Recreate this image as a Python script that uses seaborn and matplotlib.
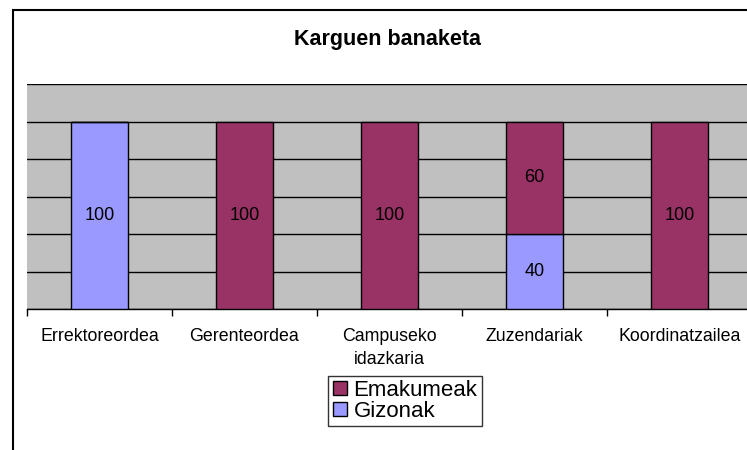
import numpy as np
import pandas as pd
import matplotlib
matplotlib.use("Agg")
import matplotlib.pyplot as plt
import matplotlib.patches as mpatches
import seaborn as sns

# ---- data ----
categories = ["Errektoreordea", "Gerenteordea", "Campuseko\nidazkaria",
              "Zuzendariak", "Koordinatzailea"]
gizonak = [100, 0, 0, 40, 0]
emakumeak = [0, 100, 100, 60, 100]
series_names = ["Emakumeak", "Gizonak"]
title = "Karguen banaketa"

C_EMA = "#993366"
C_GIZ = "#9999FF"
C_BG = "#C0C0C0"

sns.set_style("white")
plt.rcParams["font.family"] = ["Liberation Sans", "DejaVu Sans"]
plt.rcParams.update({"text.color": "black", "xtick.color": "black",
                     "axes.labelcolor": "black"})

fig = plt.figure(figsize=(7.47, 4.5), dpi=100)
ax = fig.add_axes([27 / 747, 141 / 450, 725 / 747, 225 / 450])
ax.set_facecolor(C_BG)

# stacked bars: Gizonak at the bottom, Emakumeak on top
sns.barplot(x=categories, y=gizonak, color=C_GIZ, saturation=1,
            edgecolor="black", linewidth=1, width=0.39, ax=ax, zorder=3)
sns.barplot(x=categories, y=emakumeak, bottom=gizonak, color=C_EMA,
            saturation=1, edgecolor="black", linewidth=1, width=0.39,
            ax=ax, zorder=3)

# value labels in the middle of each segment
for i in range(len(categories)):
    if gizonak[i] > 0:
        ax.text(i, gizonak[i] / 2, str(gizonak[i]), ha="center", va="center",
                fontsize=13, zorder=5)
    if emakumeak[i] > 0:
        ax.text(i, gizonak[i] + emakumeak[i] / 2, str(emakumeak[i]),
                ha="center", va="center", fontsize=13, zorder=5)

ax.set_ylim(0, 120)
ax.set_xlim(-0.5, len(categories) - 0.5)
ax.set_yticks(np.arange(0, 121, 20))
ax.set_yticklabels([])
ax.tick_params(axis="y", length=0)
ax.yaxis.grid(True, color="black", linewidth=1)
ax.set_axisbelow(True)
for s in ["left", "right", "top"]:
    ax.spines[s].set_visible(False)
ax.spines["bottom"].set_color("black")
ax.spines["bottom"].set_linewidth(1)

# labels at centres, tick marks at category boundaries
ax.set_xticks(np.arange(len(categories)))
ax.set_xticklabels(categories, fontsize=12.8, linespacing=1.45)
ax.tick_params(axis="x", which="major", length=0, pad=14, bottom=True)
ax.set_xticks(np.arange(-0.5, len(categories), 1), minor=True)
ax.tick_params(axis="x", which="minor", length=5, width=1, color="black",
               bottom=True)
ax.set_xlabel("")
ax.set_ylabel("")

fig.text(387 / 747, 1 - 45 / 450, title, ha="center", va="baseline",
         fontsize=15.5, fontweight="bold")

handles = [mpatches.Patch(facecolor=C_EMA, edgecolor="black", linewidth=1),
           mpatches.Patch(facecolor=C_GIZ, edgecolor="black", linewidth=1)]
leg = fig.legend(handles, series_names, loc="center",
                 bbox_to_anchor=(405 / 747, 1 - 401 / 450), fontsize=16,
                 frameon=True, fancybox=False, edgecolor="black",
                 labelspacing=0.0, handlelength=0.63, handleheight=0.6,
                 handletextpad=0.3, borderpad=0.2, borderaxespad=0)
leg.get_frame().set_linewidth(1)

# outer chart border (cropped at right/bottom)
fig.patches.append(mpatches.Rectangle((13 / 747, -0.2), 1.2, 1.2 - 10 / 450,
                                      transform=fig.transFigure, fill=False,
                                      edgecolor="black", linewidth=1.5))

fig.savefig("out.png", dpi=100)
